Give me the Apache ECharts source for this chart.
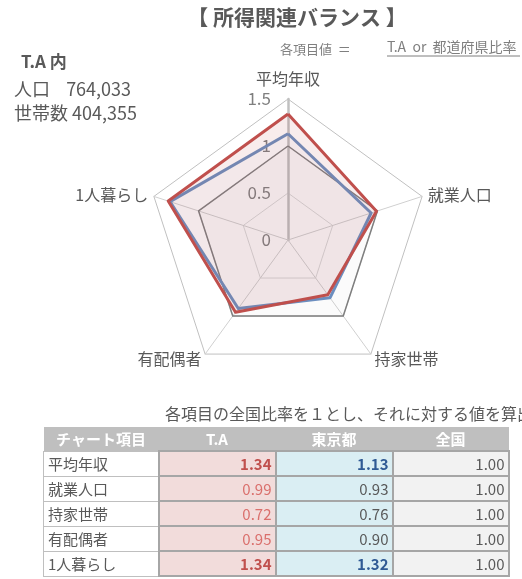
<!DOCTYPE html>
<html>
<head>
<meta charset="utf-8">
<script src="https://cdn.jsdelivr.net/npm/echarts@6/dist/echarts.min.js"></script>
<style>
  html, body { margin: 0; padding: 0; background: #fff; overflow: hidden; }
  #wrap { position: relative; width: 522px; height: 579px; overflow: hidden; font-family: "Noto Sans CJK JP", sans-serif; }
  #radar { position: absolute; left: 0; top: 0; width: 522px; height: 579px; }
  #note { position: absolute; left: 165px; top: 401px; font-size: 16px; color: #595959; white-space: nowrap; }
  #tbl { position: absolute; left: 43px; top: 427px; border-collapse: collapse; font-size: 15px; color: #595959; }
  #tbl th { background: #bfbfbf; color: #fff; font-weight: bold; height: 23px; padding: 0; font-size: 15px; }
  #tbl td { height: 23px; padding: 0 3px; border: 2px solid #a6a6a6; text-align: right; line-height: 21px; }
  #tbl td.item { text-align: left; background: #fff; border-color: #bfbfbf; border-width: 1px; padding-left: 4px; }
</style>
</head>
<body>
<div id="wrap">
  <div id="radar"></div>
  <div id="note">各項目の全国比率を１とし、それに対する値を算出</div>
  <table id="tbl"></table>
</div>
<script>
// チャート項目（表の順）
var items = ["平均年収", "就業人口", "持家世帯", "有配偶者", "1人暮らし"];
var taValues = [1.34, 0.99, 0.72, 0.95, 1.34];
var tokyoValues = [1.13, 0.93, 0.76, 0.90, 1.32];
var zenkokuValues = [1.00, 1.00, 1.00, 1.00, 1.00];
var headers = ["チャート項目", "T.A", "東京都", "全国"];
var colWidths = [115, 117, 117, 116];

// echartsのレーダーは反時計回りなので、時計回りに並べ替える
var order = [0, 4, 3, 2, 1];
var pick = function (arr) { return order.map(function (i) { return arr[i]; }); };

var myChart = echarts.init(document.getElementById("radar"));
var option = {
  animation: false,
  textStyle: { fontFamily: "Noto Sans CJK JP" },
  title: [
    { text: "【 所得関連バランス 】", left: 297, textAlign: "center", top: 7, padding: 0,
      textStyle: { fontSize: 21, fontWeight: "bold", color: "#595959" } },
    { text: "各項目値  ＝", left: 280, top: 43, padding: 0,
      textStyle: { fontSize: 13, fontWeight: "normal", color: "#7f7f7f" } },
    { text: "T.A  or  都道府県比率", left: 387, top: 40, padding: 0,
      textStyle: { fontSize: 14, fontWeight: "normal", color: "#7f7f7f" } },
    { text: "T.A 内", left: 21, top: 53, padding: 0,
      textStyle: { fontSize: 17, fontWeight: "bold", color: "#595959" } },
    { text: "人口    764,033", left: 14, top: 80, padding: 0,
      textStyle: { fontSize: 18, fontWeight: "normal", color: "#595959" } },
    { text: "世帯数 404,355", left: 14, top: 104, padding: 0,
      textStyle: { fontSize: 18, fontWeight: "normal", color: "#595959" } }
  ],
  graphic: [
    { type: "line", shape: { x1: 387, y1: 56, x2: 520, y2: 56 },
      style: { stroke: "#7f7f7f", lineWidth: 1 } }
  ],
  radar: {
    center: [288, 240],
    radius: 141,
    startAngle: 90,
    splitNumber: 3,
    shape: "polygon",
    axisName: { color: "#595959", fontSize: 16 },
    nameGap: 6,
    indicator: pick(items).map(function (name, i) {
      var ind = { name: name, min: 0, max: 1.5 };
      if (i === 0) {
        ind.nameGap = 12;
        ind.axisLabel = { show: true, color: "#7f7f7f", fontSize: 17, margin: 17 };
        ind.axisLine = { lineStyle: { color: "#c0c0c0", width: 2.5 } };
      }
      return ind;
    }),
    axisLabel: { show: false },
    axisLine: { lineStyle: { color: "#d0d0d0", width: 1 } },
    splitLine: { lineStyle: { color: ["#d9d9d9", "#d9d9d9", "#d9d9d9", "#c0c0c0"], width: 1 } },
    splitArea: { show: false }
  },
  series: [
    {
      type: "radar",
      silent: true,
      symbol: "none",
      data: [
        { name: "全国", value: pick(zenkokuValues),
          lineStyle: { color: "#7f7f7f", width: 1.5 },
          areaStyle: { color: "rgba(128,128,128,0.05)" } },
        { name: "東京都", value: pick(tokyoValues),
          lineStyle: { color: "#6c8ebf", width: 3 },
          areaStyle: { color: "rgba(108,142,191,0.06)" } },
        { name: "T.A", value: pick(taValues),
          lineStyle: { color: "#c0504d", width: 3 },
          areaStyle: { color: "rgba(192,80,77,0.15)" } }
      ]
    }
  ]
};
myChart.setOption(option);

// 表
var tbl = document.getElementById("tbl");
var html = "<tr>";
headers.forEach(function (h, i) {
  html += '<th style="width:' + colWidths[i] + 'px">' + h + "</th>";
});
html += "</tr>";
items.forEach(function (name, r) {
  var ta = taValues[r], tk = tokyoValues[r], zk = zenkokuValues[r];
  var taStyle = ta > 1.1 ? "color:#c0504d;font-weight:bold;" : "color:#da6f6c;";
  var tkStyle = tk > 1.1 ? "color:#2f5a94;font-weight:bold;" : "color:#595959;";
  html += "<tr>";
  html += '<td class="item">' + name + "</td>";
  html += '<td style="background:#f2dcdb;' + taStyle + '">' + ta.toFixed(2) + "</td>";
  html += '<td style="background:#daeef3;' + tkStyle + '">' + tk.toFixed(2) + "</td>";
  html += '<td style="background:#f2f2f2;">' + zk.toFixed(2) + "</td>";
  html += "</tr>";
});
tbl.innerHTML = html;
</script>
</body>
</html>
